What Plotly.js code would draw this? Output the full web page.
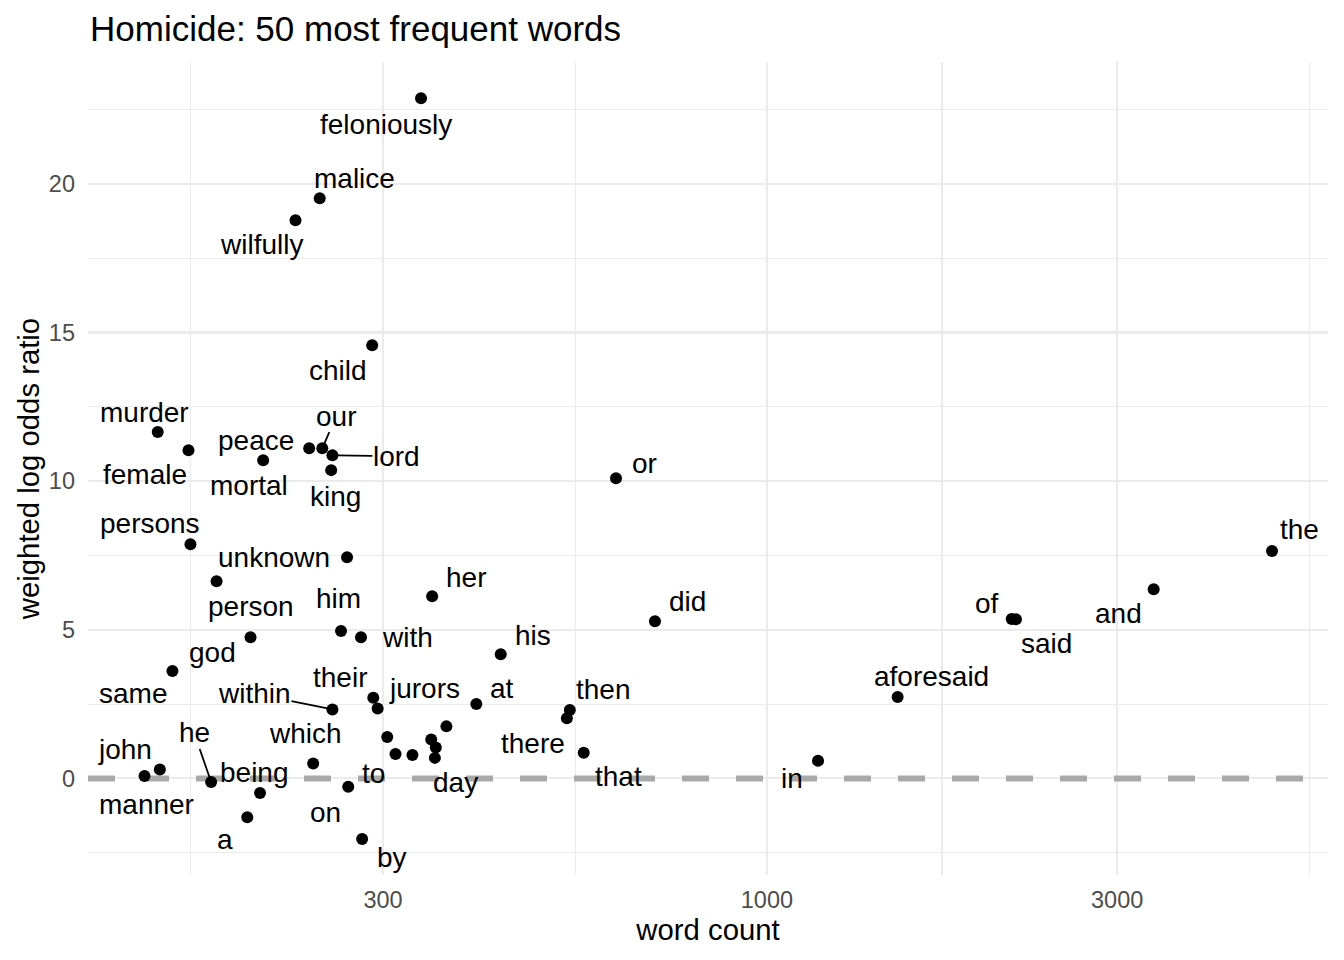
<!DOCTYPE html>
<html>
<head>
<meta charset="utf-8">
<script src="https://cdn.plot.ly/plotly-3.0.1.min.js"></script>
<style>
  html, body { margin: 0; padding: 0; background: #fff; }
  #chart { width: 1344px; height: 960px; }
</style>
</head>
<body>
<div id="chart"></div>
<script>
// words, counts and weighted log odds
// (empty names are the points ggrepel left unlabelled)
var words = ['feloniously', 'malice', 'wilfully', 'child', 'murder', 'female', 'peace', 'our',
  'lord', 'mortal', 'king', 'or', 'persons', 'the', 'unknown', 'her', 'did', 'person', 'him',
  'with', 'his', 'of', 'said', 'and', 'god', 'same', 'their', 'within', 'jurors', 'at', 'then',
  'there', 'that', 'aforesaid', 'in', 'which', 'he', 'john', 'manner', 'being', 'a', 'on', 'by',
  'to', 'day', '', '', '', '', '']

var counts = [338, 246, 228, 290, 148, 163, 238, 248,
  256, 206, 255, 623, 164, 4876, 268, 350, 704, 178, 263,
  280, 434, 2155, 2184, 3364, 198, 155, 291, 256, 295, 402, 539,
  534, 563, 1507, 1174, 241, 175, 149, 142, 204, 196, 269, 281,
  312, 353, 304, 329, 349, 354, 366]

var logOdds = [22.88, 19.52, 18.78, 14.57, 11.65, 11.04, 11.11, 11.11,
  10.87, 10.70, 10.37, 10.10, 7.88, 7.65, 7.44, 6.13, 5.29, 6.63, 4.96,
  4.75, 4.18, 5.36, 5.35, 6.36, 4.75, 3.61, 2.71, 2.32, 2.35, 2.50, 2.30,
  2.02, 0.86, 2.74, 0.59, 0.50, -0.12, 0.30, 0.08, -0.49, -1.31, -0.28, -2.04,
  0.82, 0.69, 1.39, 0.79, 1.31, 1.04, 1.75]

var xTicks = [300, 1000, 3000]
var xMinor = [164, 548, 1732, 5477]
var yTicks = [0, 5, 10, 15, 20]
var yMinor = [-2.5, 2.5, 7.5, 12.5, 17.5, 22.5]

// axis ranges (x in log10 units), data extent plus 5% padding
var xRange = [2.0753, 3.7643]
var yRange = [-3.25, 24.1]

// label placement (screen pixels from the point, like ggrepel left them)
var labelShift = {
  feloniously: [-35, 26], malice: [35, -20], wilfully: [-34, 24], child: [-34, 25],
  murder: [-13, -20], female: [-44, 24], peace: [-53, -8], mortal: [-14, 25],
  king: [4, 26], or: [28, -15], persons: [-40, -21], the: [27, -21],
  unknown: [-73, 0], her: [34, -19], did: [33, -20], person: [34, 25],
  him: [-3, -32], with: [46, 0], his: [32, -19], of: [-25, -16],
  said: [31, 24], and: [-35, 24], god: [-38, 15], same: [-39, 22],
  their: [-33, -20], jurors: [47, -20], at: [26, -16], then: [34, -21],
  there: [-34, 25], that: [35, 24], aforesaid: [34, -20], in: [-26, 18],
  which: [-8, -30], john: [-35, -20], manner: [2, 28], being: [-6, -20],
  a: [-22, 22], on: [-23, 26], by: [30, 18], to: [-22, 19], day: [21, 25]
}
// labels pushed far enough to get a segment
var labelSegment = {
  our: [14, -32], lord: [64, 1], within: [-78, -16], he: [-17, -49]
}

var font = 'Liberation Sans, Arial, Helvetica, sans-serif'

function buildLabels() {
  var anns = []
  for (var i = 0; i < words.length; i++) {
    var w = words[i]
    if (!w) continue
    var base = {
      x: Math.log10(counts[i]),
      y: logOdds[i],
      xref: 'x', yref: 'y',
      text: w,
      font: { family: font, size: 28, color: '#000000' }
    }
    if (labelSegment[w]) {
      base.showarrow = true
      base.arrowhead = 0
      base.arrowwidth = 1.8
      base.arrowcolor = '#000000'
      base.ax = labelSegment[w][0]
      base.ay = labelSegment[w][1]
      base.standoff = 5
      base.borderpad = 0
    } else if (labelShift[w]) {
      base.showarrow = false
      base.xshift = labelShift[w][0]
      base.yshift = -labelShift[w][1]
    } else {
      continue
    }
    anns.push(base)
  }
  return anns
}

// reference line at zero across the whole panel, under the points
var zeroLine = {
  x: xRange.map(function (v) { return Math.pow(10, v) }),
  y: [0, 0],
  type: 'scatter',
  mode: 'lines',
  line: { color: '#A9A9A9', width: 6, dash: '27px,27px' },
  hoverinfo: 'skip',
  showlegend: false
}

var points = {
  x: counts,
  y: logOdds,
  text: words,
  type: 'scatter',
  mode: 'markers',
  marker: { color: '#000000', size: 12 },
  hovertemplate: '%{text}<br>%{x}<br>%{y}<extra></extra>',
  showlegend: false
}

var layout = {
  width: 1344,
  height: 960,
  paper_bgcolor: '#ffffff',
  plot_bgcolor: '#ffffff',
  margin: { l: 88, r: 16, t: 62, b: 85 },
  font: { family: font, color: '#000000' },
  title: {
    text: 'Homicide: 50 most frequent words',
    font: { family: font, size: 35, color: '#000000' },
    xref: 'container', yref: 'container',
    x: 90 / 1344, xanchor: 'left',
    y: 1 - 29 / 960, yanchor: 'middle'
  },
  xaxis: {
    type: 'log',
    range: xRange,
    tickmode: 'array',
    tickvals: xTicks,
    ticktext: xTicks.map(String),
    ticks: '',
    ticklabelstandoff: 8,
    tickfont: { family: font, size: 23.5, color: '#4D4D4D' },
    showgrid: true,
    gridcolor: '#EBEBEB',
    gridwidth: 2.1,
    minor: {
      tickmode: 'array',
      tickvals: xMinor,
      showgrid: true,
      gridcolor: '#EBEBEB',
      gridwidth: 1.1,
      ticks: ''
    },
    zeroline: false,
    showline: false,
    title: { text: 'word count', font: { family: font, size: 29.3, color: '#000000' }, standoff: 7 }
  },
  yaxis: {
    range: yRange,
    tickmode: 'array',
    tickvals: yTicks,
    ticktext: yTicks.map(String),
    ticks: '',
    ticklabelstandoff: 12,
    tickfont: { family: font, size: 23.5, color: '#4D4D4D' },
    showgrid: true,
    gridcolor: '#EBEBEB',
    gridwidth: 2.1,
    minor: {
      tickmode: 'array',
      tickvals: yMinor,
      showgrid: true,
      gridcolor: '#EBEBEB',
      gridwidth: 1.1,
      ticks: ''
    },
    zeroline: false,
    showline: false,
    title: { text: 'weighted log odds ratio', font: { family: font, size: 29.3, color: '#000000' }, standoff: 0 }
  },
  annotations: buildLabels()
}

Plotly.newPlot('chart', [zeroLine, points], layout, { displayModeBar: false, staticPlot: true })
</script>
</body>
</html>
